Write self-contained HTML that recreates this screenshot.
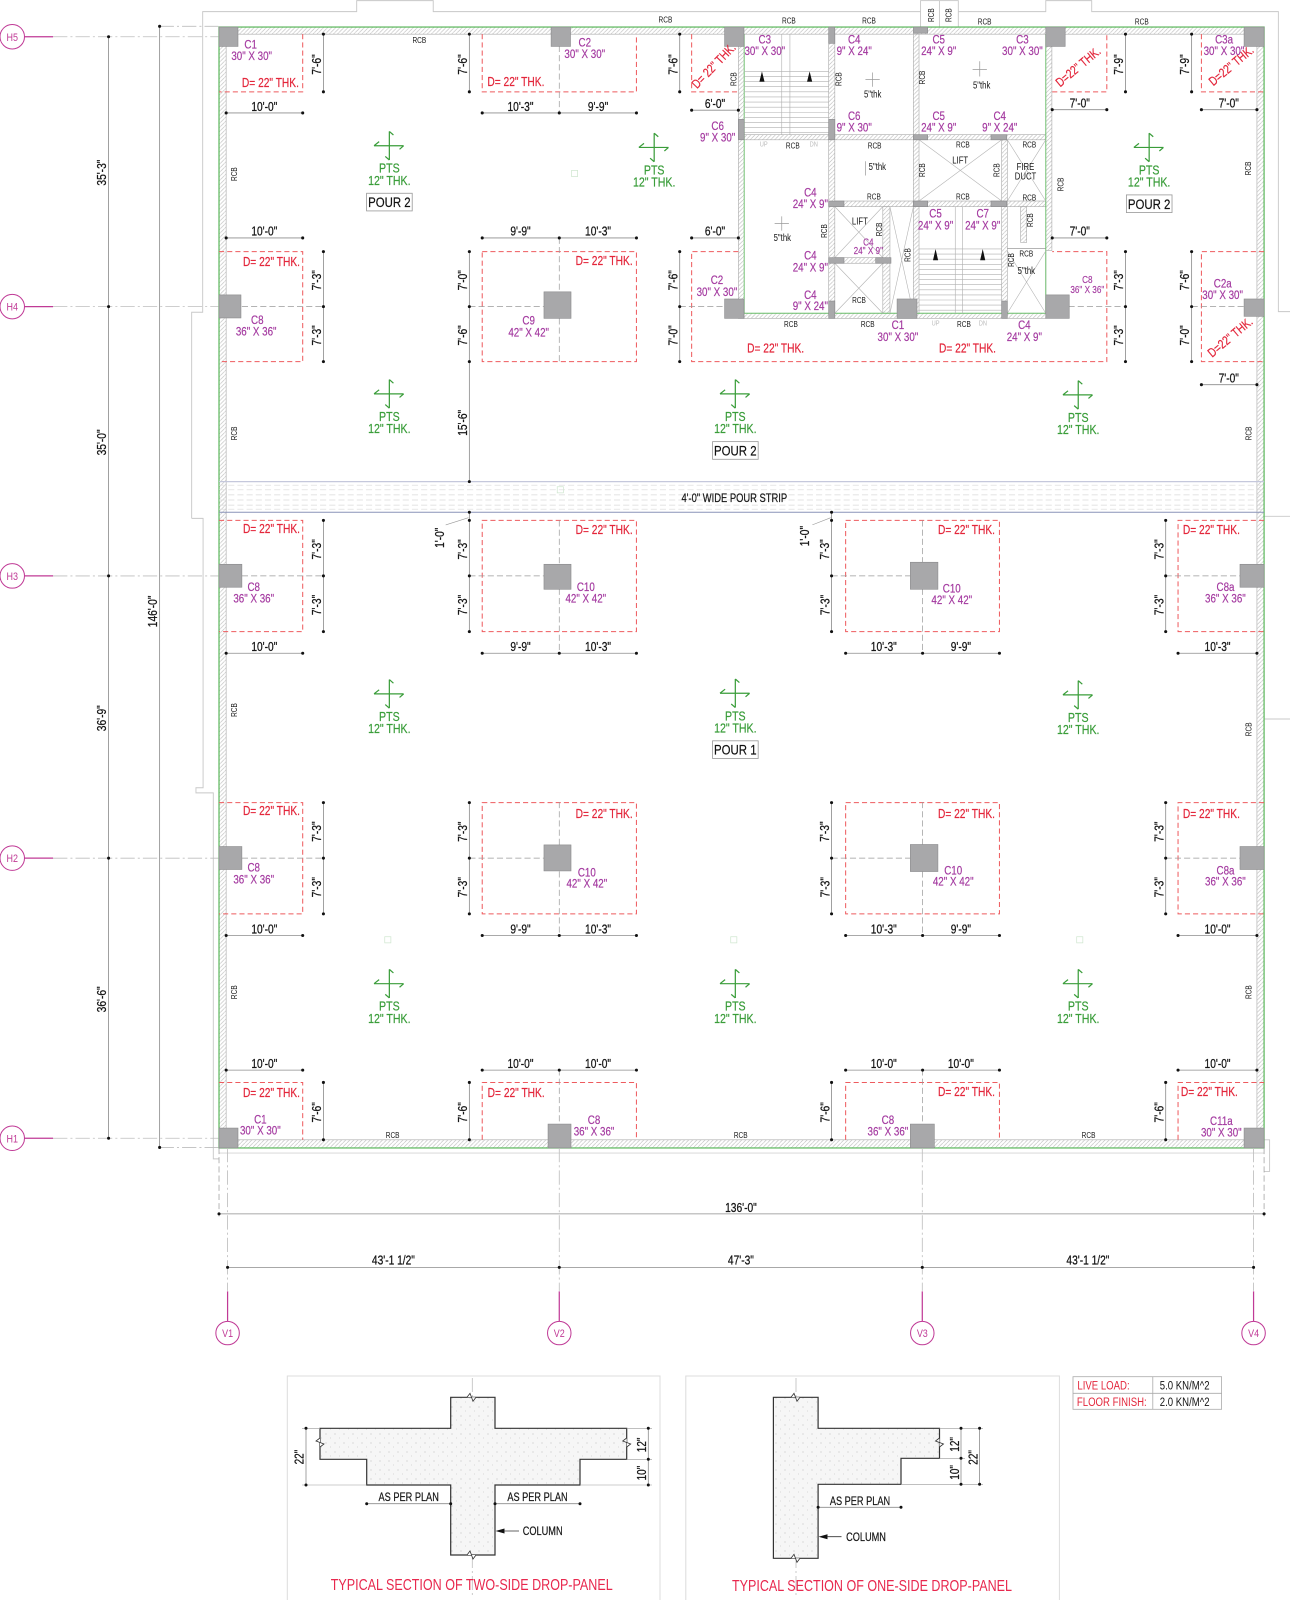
<!DOCTYPE html>
<html><head><meta charset="utf-8">
<style>
html,body{margin:0;padding:0;background:#fff}
svg{display:block}
text{font-family:"Liberation Sans",Arial,sans-serif;text-anchor:middle;transform-box:fill-box;transform-origin:center;transform:scaleX(.8)}
text.v{transform:rotate(-90deg) scaleX(.8)}
text.q{transform:rotate(-46deg) scaleX(.8)}
text.q4{transform:rotate(-40deg) scaleX(.8)}
text.ti{transform:none}
.d{font-size:12.5px;fill:#151515;stroke:#151515;stroke-width:.25}
.a{font-size:11.5px;fill:#151515;stroke:#151515;stroke-width:.2}
.m{font-size:12px;fill:#a43aa0;stroke:#a43aa0;stroke-width:.2}
.m2{font-size:10px;fill:#a43aa0;stroke:#a43aa0;stroke-width:.15}
.r{font-size:12.5px;fill:#e3263b;stroke:#e3263b;stroke-width:.2}
.g{font-size:13px;fill:#3a9d3a;stroke:#3a9d3a;stroke-width:.2}
.s{font-size:8px;fill:#151515}
.t{font-size:9.5px;fill:#151515}
.u{font-size:7px;fill:#bbb}
.b{font-size:11px;fill:#c03a96}
.k{font-size:14px;fill:#111;stroke:#111;stroke-width:.2}
.ti{font-size:15.5px;fill:#e8284e}
.tl{font-size:12px}
.w{fill:url(#h);stroke:#aaa;stroke-width:.6}
.c{fill:#a8a8aa;stroke:#8a8a8c;stroke-width:.6}
.p{fill:none;stroke:#ee5b5e;stroke-width:1;stroke-dasharray:5 3}
.dm{fill:none;stroke:#8c8c8c;stroke-width:.8;marker-start:url(#dt);marker-mid:url(#dt);marker-end:url(#dt)}
.gd{stroke:#9a9a9a;stroke-width:.7;stroke-dasharray:6 3;fill:none}
.gl{stroke:#bdbdbd;stroke-width:.8;stroke-dasharray:14 3 2 3;fill:none}
.ln{stroke:#c8c8c8;stroke-width:.9;fill:none}
.bub{fill:#fff;stroke:#c03a96;stroke-width:1}
.mg{stroke:#c03a96;stroke-width:1.2}
.x{stroke:#b5b5b5;stroke-width:.6;fill:none}
.tr{stroke:#b0b0b0;stroke-width:.6;fill:none}
.ex{stroke:#999;stroke-width:.6;fill:none}
</style></head>
<body>
<svg width="1290" height="1600" viewBox="0 0 1290 1600" xmlns="http://www.w3.org/2000/svg">
<defs>
<pattern id="h" width="4" height="4" patternUnits="userSpaceOnUse"><path d="M0,4L4,0" stroke="#bdbdbd" stroke-width=".6"/></pattern>
<pattern id="st" width="9" height="9" patternUnits="userSpaceOnUse"><rect width="9" height="9" fill="#f6f6f6"/><circle cx="2" cy="3" r=".6" fill="#c4c4c4"/><circle cx="6.5" cy="7" r=".5" fill="#cfcfcf"/></pattern>
<marker id="dt" viewBox="0 0 4 4" refX="2" refY="2" markerWidth="4" markerHeight="4" markerUnits="userSpaceOnUse"><circle cx="2" cy="2" r="1.5" fill="#111"/></marker>
<g id="pts" fill="none" stroke="#3a9d3a" stroke-width="1.2"><path d="M-15,0H14M0,-14V14M-15,0l5,-4M14,0l-4,3.5M0,-14l4,3.5M0,14l-4,-3.5"/></g>
</defs>

<g transform="scale(1.02057,1.02041)">
<!-- outer boundary -->
<polyline class="ln" points="187.8,508 187.8,306 198.6,306 198.6,11.4 349.5,11.4 349.5,0.6 424.5,0.6 424.5,11.4 902,11.4"/>
<polyline class="ln" points="939,11.4 1024.7,11.4 1024.7,0.6 1069.7,0.6 1069.7,11.4 1252.6,11.4 1252.6,305.4 1264,305.4"/>
<rect class="ln" x="902" y="0.6" width="37" height="26"/>
<line class="ln" x1="920.5" y1="0.6" x2="920.5" y2="26.6"/>
<polyline class="ln" points="187.8,508 199,508 199,772 192,772 192,777 209,777 209,1135.7 214.6,1135.7"/>
<path class="ln" d="M1238.6,506H1264M1238.6,704.6H1264M1238.6,1117H1244V1148H1238.6"/>
<line x1="214.6" y1="1130" x2="1238.6" y2="1130" stroke="#dedede"/>

<!-- walls -->
<rect class="w" x="214.6" y="26.5" width="1024" height="7"/>
<rect class="w" x="214.6" y="33.5" width="7" height="1083.5"/>
<rect class="w" x="1231.6" y="33.5" width="7" height="1083.5"/>
<rect class="w" x="214.6" y="1117" width="1024" height="8"/>
<rect x="214.6" y="26.5" width="1024" height="1098.5" fill="none" stroke="#5cb85c" stroke-width="1.2"/>

<!-- pour strip -->
<g stroke="#dadada" stroke-width=".7" stroke-dasharray="6 3"><path d="M214.6,475.5H1238.6M214.6,480H1238.6M214.6,485H1238.6M214.6,490H1238.6M214.6,495H1238.6M214.6,499H1238.6"/></g>
<line x1="214.6" y1="472" x2="1238.6" y2="472" stroke="#c5c8dc" stroke-width="1.3"/>
<line x1="214.6" y1="502" x2="1238.6" y2="502" stroke="#8a93b8" stroke-width="1"/>
<text class="a" x="719.5" y="492">4'-0" WIDE POUR STRIP</text>

<!-- core walls -->
<rect class="w" x="723.5" y="33.5" width="5.7" height="278.5"/>
<rect class="w" x="1024.7" y="33.5" width="6" height="212"/>
<rect class="w" x="729.2" y="307" width="295.5" height="5"/>
<rect class="w" x="812" y="33.5" width="6" height="273.5"/>
<rect class="w" x="895" y="33.5" width="5.5" height="273.5"/>
<rect class="w" x="981.5" y="137" width="5.5" height="170"/>
<rect class="w" x="729.2" y="132" width="295.5" height="5"/>
<rect class="w" x="818" y="197" width="206.7" height="5.5"/>
<rect class="w" x="818" y="252.5" width="47" height="5.5"/>
<rect class="w" x="865" y="202.5" width="7" height="104.5"/>
<rect class="w" x="1000" y="202.5" width="6" height="35"/>
<path d="M987,243.5H1024.7M1024.7,246V307" stroke="#aaa" stroke-width=".8"/>
<polyline points="729.2,33.5 729.2,307 1024.7,307 1024.7,33.5" stroke="#6cc06c" fill="none" stroke-width=".9"/>
<!-- stairs -->
<path class="tr" d="M729,70H812M729,75H812M729,80H812M729,85H812M729,90H812M729,95H812M729,100H812M729,105H812M729,110H812M729,115H812M729,120H812M729,125H812M729,130H812M766,33.5V132M774,33.5V132"/>
<path class="tr" d="M900.5,244H981.5M900.5,249H981.5M900.5,254H981.5M900.5,259H981.5M900.5,264H981.5M900.5,269H981.5M900.5,274H981.5M900.5,279H981.5M900.5,284H981.5M900.5,289H981.5M900.5,294H981.5M900.5,299H981.5M900.5,304H981.5M936,202.5V307M943,202.5V307"/>
<path d="M746.6,70l-2.5,10h5zM793.3,70l-2.5,10h5zM916.7,244l-2.5,11h5zM962.9,244l-2.5,11h5z" fill="#111"/>
<path class="x" d="M900.5,137L981.5,197M981.5,137L900.5,197M987,137L1024.7,197M1024.7,137L987,197M818,202.5L865,252.5M865,202.5L818,252.5M818,258L865,307M865,258L818,307M872,202.5L895,307M895,202.5L872,307M987,246L1024.7,307M1024.7,246L987,307"/>
<path d="M848,158V172M855,71V85M848,78H862M960,60V75M953,68H967M766,212V226M759,219H773" stroke="#999" stroke-width=".7"/>
<!-- core small columns -->
<g class="c">
<rect x="812" y="26.5" width="6" height="16"/><rect x="895" y="26.5" width="14" height="6"/>
<rect x="723.5" y="117" width="5.7" height="20"/><rect x="812" y="117" width="6" height="20"/>
<rect x="895" y="132" width="14" height="5"/><rect x="971" y="132" width="15.5" height="5"/>
<rect x="812" y="197" width="15" height="5.5"/><rect x="895" y="197" width="14" height="5.5"/><rect x="971" y="197" width="15.5" height="5.5"/>
<rect x="812" y="252.5" width="15" height="5.5"/><rect x="858" y="252.5" width="15" height="5.5"/>
<rect x="812" y="295" width="6" height="17"/><rect x="981.5" y="295" width="5.5" height="17"/>
</g>

<!-- drop panels -->
<g class="p">
<polyline points="296.6,33.5 296.6,90 214.6,90"/>
<polyline points="472.5,33.5 472.5,90 623.6,90 623.6,33.5"/>
<polyline points="677.7,33.5 677.7,90 723.5,90"/>
<polyline points="1031,90 1084.5,90 1084.5,33.5"/>
<polyline points="1177.2,33.5 1177.2,90 1238.6,90"/>
<polyline points="214.6,246.6 296.6,246.6 296.6,354.4 214.6,354.4"/>
<rect x="472.5" y="246.6" width="151.1" height="107.8"/>
<polyline points="723.5,246.6 677.7,246.6 677.7,354.4 1084.5,354.4 1084.5,246.6 1031,246.6"/>
<polyline points="1238.6,246.6 1177.2,246.6 1177.2,354.4 1238.6,354.4"/>
<polyline points="214.6,510 296.6,510 296.6,619 214.6,619"/>
<rect x="472.5" y="510" width="151.1" height="109"/>
<rect x="828.6" y="510" width="150.7" height="109"/>
<polyline points="1238.6,510 1154.3,510 1154.3,619 1238.6,619"/>
<polyline points="214.6,786.6 296.6,786.6 296.6,895.6 214.6,895.6"/>
<rect x="472.5" y="786.6" width="151.1" height="109"/>
<rect x="828.6" y="786.6" width="150.7" height="109"/>
<polyline points="1238.6,786.6 1154.3,786.6 1154.3,895.6 1238.6,895.6"/>
<polyline points="214.6,1060.8 296.6,1060.8 296.6,1117"/>
<polyline points="472.5,1117 472.5,1060.8 623.6,1060.8 623.6,1117"/>
<polyline points="828.6,1117 828.6,1060.8 979.3,1060.8 979.3,1117"/>
<polyline points="1154.3,1117 1154.3,1060.8 1238.6,1060.8"/>
</g>

<!-- internal grey dashed grid -->
<path class="gd" d="M237,300.5H316.9M459.9,300.5H533M666,300.5H710M1047,300.5H1102.8M1167.6,300.5H1219M237,564.4H316.9M459.9,564.4H533M814.8,564.4H892M1142.2,564.4H1215M237,841H316.9M459.9,841H533M814.8,841H892M1142.2,841H1215M548,45V110M548,233V286M548,312V354M548,510V553M548,577V640M548,786V828M548,854V917M548,1048V1101M904,510V551M904,577V640M904,786V828M904,854V917M904,1048V1101"/>

<!-- columns -->
<g class="c">
<rect x="214.6" y="26.5" width="18.6" height="19"/>
<rect x="540" y="26.5" width="19" height="19"/>
<rect x="710" y="26.5" width="19" height="19"/>
<rect x="1024.7" y="26.5" width="19" height="19"/>
<rect x="1219" y="26.5" width="19.6" height="19"/>
<rect x="214.6" y="289" width="21.5" height="22.6"/>
<rect x="533" y="286" width="26.5" height="26"/>
<rect x="710" y="293" width="19" height="19"/>
<rect x="879" y="293" width="19.5" height="19"/>
<rect x="1024.7" y="289" width="23" height="23"/>
<rect x="1219" y="293" width="19.6" height="17"/>
<rect x="214.6" y="553" width="22.4" height="22.5"/>
<rect x="533" y="553" width="26.5" height="24.5"/>
<rect x="892" y="551" width="27" height="26.5"/>
<rect x="1215" y="553" width="23.6" height="22.5"/>
<rect x="214.6" y="829.6" width="22.4" height="22.5"/>
<rect x="533" y="828" width="26.5" height="25.5"/>
<rect x="892" y="827.6" width="27" height="26.5"/>
<rect x="1215" y="829.6" width="23.6" height="22.5"/>
<rect x="214.6" y="1105.5" width="18.6" height="19.5"/>
<rect x="537" y="1101.6" width="22.5" height="23.4"/>
<rect x="892" y="1101.6" width="23.5" height="23.4"/>
<rect x="1219" y="1105.5" width="19.6" height="19.5"/>
</g>

<!-- grid bubbles left -->
<g>
<path class="gl" d="M52,36H214M52,300.5H214M52,564.4H214M52,841H214M52,1115.5H214M156.4,25.8H214M156.4,1124.5H214"/>
<path class="mg" d="M24,36H52M24,300.5H52M24,564.4H52M24,841H52M24,1115.5H52"/>
<circle class="bub" cx="12" cy="36" r="12"/><circle class="bub" cx="12" cy="300.5" r="12"/><circle class="bub" cx="12" cy="564.4" r="12"/><circle class="bub" cx="12" cy="841" r="12"/><circle class="bub" cx="12" cy="1115.5" r="12"/>
<text class="b" x="12" y="40">H5</text><text class="b" x="12" y="304.5">H4</text><text class="b" x="12" y="568.4">H3</text><text class="b" x="12" y="845">H2</text><text class="b" x="12" y="1119.5">H1</text>
<polyline class="dm" points="106.4,36 106.4,300.5 106.4,564.4 106.4,841 106.4,1115.5"/>
<polyline class="dm" points="156.4,25.8 156.4,1124.5"/>
<text class="d v" x="100.5" y="172.4">35'-3"</text>
<text class="d v" x="100.5" y="436.8">35'-0"</text>
<text class="d v" x="100.5" y="707.1">36'-9"</text>
<text class="d v" x="100.5" y="982.6">36'-6"</text>
<text class="d v" x="150.5" y="602.4">146'-0"</text>
</g>

<!-- bottom grid and dims -->
<path class="gd" d="M214.6,1125V1192M1238.6,1125V1192"/>
<path class="gl" d="M223,1125V1265M548,1125V1265M903.7,1125V1265M1228.3,1125V1265"/>
<path class="mg" d="M223,1265.6V1295M548,1265.6V1295M903.7,1265.6V1295M1228.3,1265.6V1295"/>
<circle class="bub" cx="223" cy="1306.4" r="11.5"/><circle class="bub" cx="548" cy="1306.4" r="11.5"/><circle class="bub" cx="903.7" cy="1306.4" r="11.5"/><circle class="bub" cx="1228.3" cy="1306.4" r="11.5"/>
<text class="b" x="223" y="1310.4">V1</text><text class="b" x="548" y="1310.4">V2</text><text class="b" x="903.7" y="1310.4">V3</text><text class="b" x="1228.3" y="1310.4">V4</text>
<polyline class="dm" points="214.6,1189.6 1238.6,1189.6"/>
<text class="d" x="726" y="1188">136'-0"</text>
<polyline class="dm" points="223,1242 548,1242 903.7,1242 1228.3,1242"/>
<text class="d" x="385.5" y="1239">43'-1 1/2"</text>
<text class="d" x="726" y="1239">47'-3"</text>
<text class="d" x="1066" y="1239">43'-1 1/2"</text>

<!-- dimension lines -->
<g>
<polyline class="dm" points="221.6,110.7 296.6,110.7"/><polyline class="dm" points="472.5,110.7 548,110.7 623.6,110.7"/><polyline class="dm" points="677.7,108 723.5,108"/><polyline class="dm" points="1031,107.5 1084.5,107.5"/><polyline class="dm" points="1177.2,107.5 1231.6,107.5"/>
<polyline class="dm" points="316.9,33.5 316.9,90"/><polyline class="dm" points="459.9,33.5 459.9,90"/><polyline class="dm" points="666,33.5 666,90"/><polyline class="dm" points="1102.8,33.5 1102.8,90"/><polyline class="dm" points="1167.6,33.5 1167.6,90"/>
<polyline class="dm" points="221.6,233.2 296.6,233.2"/><polyline class="dm" points="472.5,233.2 548,233.2 623.6,233.2"/><polyline class="dm" points="677.7,233.2 723.5,233.2"/><polyline class="dm" points="1031,233.2 1084.5,233.2"/><polyline class="dm" points="1177.2,377 1231.6,377"/>
<polyline class="dm" points="316.9,246.6 316.9,300.5 316.9,354.4"/><polyline class="dm" points="459.9,246.6 459.9,300.5 459.9,354.4 459.9,472"/><polyline class="dm" points="666,246.6 666,300.5 666,354.4"/><polyline class="dm" points="1102.8,246.6 1102.8,300.5 1102.8,354.4"/><polyline class="dm" points="1167.6,246.6 1167.6,300.5 1167.6,354.4"/>
<polyline class="dm" points="316.9,510 316.9,564.4 316.9,619"/><polyline class="dm" points="459.9,502 459.9,510 459.9,564.4 459.9,619"/><polyline class="dm" points="814.8,502 814.8,510 814.8,564.4 814.8,619"/><polyline class="dm" points="1142.2,510 1142.2,564.4 1142.2,619"/>
<polyline class="dm" points="221.6,640.2 296.6,640.2"/><polyline class="dm" points="472.5,640.2 548,640.2 623.6,640.2"/><polyline class="dm" points="828.6,640.2 904,640.2 979.3,640.2"/><polyline class="dm" points="1154.3,640.2 1231.6,640.2"/>
<polyline class="dm" points="316.9,786.6 316.9,841 316.9,895.6"/><polyline class="dm" points="459.9,786.6 459.9,841 459.9,895.6"/><polyline class="dm" points="814.8,786.6 814.8,841 814.8,895.6"/><polyline class="dm" points="1142.2,786.6 1142.2,841 1142.2,895.6"/>
<polyline class="dm" points="221.6,916.8 296.6,916.8"/><polyline class="dm" points="472.5,916.8 548,916.8 623.6,916.8"/><polyline class="dm" points="828.6,916.8 904,916.8 979.3,916.8"/><polyline class="dm" points="1154.3,916.8 1231.6,916.8"/>
<polyline class="dm" points="221.6,1048.7 296.6,1048.7"/><polyline class="dm" points="472.5,1048.7 548,1048.7 623.6,1048.7"/><polyline class="dm" points="828.6,1048.7 904,1048.7 979.3,1048.7"/><polyline class="dm" points="1154.3,1048.7 1231.6,1048.7"/>
<polyline class="dm" points="316.9,1060.8 316.9,1117"/><polyline class="dm" points="459.9,1060.8 459.9,1117"/><polyline class="dm" points="814.8,1060.8 814.8,1117"/><polyline class="dm" points="1142.2,1060.8 1142.2,1117"/>
<path class="ex" d="M436.7,514.4L459,507.3M796,514.4L814,507.3"/>
</g>
<!-- dim texts horizontal -->
<g>
<text class="d" x="259" y="108.7">10'-0"</text><text class="d" x="510" y="108.7">10'-3"</text><text class="d" x="586" y="108.7">9'-9"</text><text class="d" x="700.6" y="106">6'-0"</text><text class="d" x="1058" y="105.5">7'-0"</text><text class="d" x="1204" y="105.5">7'-0"</text>
<text class="d" x="259" y="231">10'-0"</text><text class="d" x="510" y="231">9'-9"</text><text class="d" x="586" y="231">10'-3"</text><text class="d" x="700.6" y="231">6'-0"</text><text class="d" x="1058" y="231">7'-0"</text><text class="d" x="1204" y="375">7'-0"</text>
<text class="d" x="259" y="638">10'-0"</text><text class="d" x="510" y="638">9'-9"</text><text class="d" x="586" y="638">10'-3"</text><text class="d" x="866" y="638">10'-3"</text><text class="d" x="941.5" y="638">9'-9"</text><text class="d" x="1193" y="638">10'-3"</text>
<text class="d" x="259" y="914.6">10'-0"</text><text class="d" x="510" y="914.6">9'-9"</text><text class="d" x="586" y="914.6">10'-3"</text><text class="d" x="866" y="914.6">10'-3"</text><text class="d" x="941.5" y="914.6">9'-9"</text><text class="d" x="1193" y="914.6">10'-0"</text>
<text class="d" x="259" y="1046.5">10'-0"</text><text class="d" x="510" y="1046.5">10'-0"</text><text class="d" x="586" y="1046.5">10'-0"</text><text class="d" x="866" y="1046.5">10'-0"</text><text class="d" x="941.5" y="1046.5">10'-0"</text><text class="d" x="1193" y="1046.5">10'-0"</text>
</g>
<!-- dim texts vertical -->
<g>
<text class="d v" x="311.4" y="66.4">7'-6"</text><text class="d v" x="454.4" y="66.4">7'-6"</text><text class="d v" x="660.5" y="66.4">7'-6"</text><text class="d v" x="1097.3" y="66.4">7'-9"</text><text class="d v" x="1162" y="66.4">7'-9"</text>
<text class="d v" x="311.4" y="277.9">7'-3"</text><text class="d v" x="311.4" y="331.9">7'-3"</text>
<text class="d v" x="454.4" y="277.9">7'-0"</text><text class="d v" x="454.4" y="331.9">7'-6"</text><text class="d v" x="454.4" y="417.6">15'-6"</text>
<text class="d v" x="660.5" y="277.9">7'-6"</text><text class="d v" x="660.5" y="331.9">7'-0"</text>
<text class="d v" x="1097.3" y="277.9">7'-3"</text><text class="d v" x="1097.3" y="331.9">7'-3"</text>
<text class="d v" x="1162" y="277.9">7'-6"</text><text class="d v" x="1162" y="331.9">7'-0"</text>
<text class="d v" x="311.4" y="541.6">7'-3"</text><text class="d v" x="311.4" y="596.1">7'-3"</text>
<text class="d v" x="454.4" y="541.6">7'-3"</text><text class="d v" x="454.4" y="596.1">7'-3"</text><text class="d v" x="431.8" y="530.2">1'-0"</text>
<text class="d v" x="809.3" y="541.6">7'-3"</text><text class="d v" x="809.3" y="596.1">7'-3"</text><text class="d v" x="789.5" y="528.6">1'-0"</text>
<text class="d v" x="1136.7" y="541.6">7'-3"</text><text class="d v" x="1136.7" y="596.1">7'-3"</text>
<text class="d v" x="311.4" y="818.2">7'-3"</text><text class="d v" x="311.4" y="872.7">7'-3"</text>
<text class="d v" x="454.4" y="818.2">7'-3"</text><text class="d v" x="454.4" y="872.7">7'-3"</text>
<text class="d v" x="809.3" y="818.2">7'-3"</text><text class="d v" x="809.3" y="872.7">7'-3"</text>
<text class="d v" x="1136.7" y="818.2">7'-3"</text><text class="d v" x="1136.7" y="872.7">7'-3"</text>
<text class="d v" x="311.4" y="1093.3">7'-6"</text><text class="d v" x="454.4" y="1093.3">7'-6"</text><text class="d v" x="809.3" y="1093.3">7'-6"</text><text class="d v" x="1136.7" y="1093.3">7'-6"</text>
</g>

<!-- red drop texts -->
<g>
<text class="r" x="265" y="85.5">D= 22" THK.</text><text class="r" x="505.5" y="84.5">D= 22" THK.</text>
<text class="r q" x="700" y="68.4">D= 22" THK.</text><text class="r q4" x="1057" y="69.4">D=22" THK.</text><text class="r q4" x="1207" y="68.4">D=22" THK.</text>
<text class="r" x="266" y="260.5">D= 22" THK.</text><text class="r" x="592" y="259.5">D= 22" THK.</text><text class="r" x="760" y="345.5">D= 22" THK.</text><text class="r" x="948" y="345.5">D= 22" THK.</text><text class="r q4" x="1206" y="334.4">D=22" THK.</text>
<text class="r" x="266" y="522.5">D= 22" THK.</text><text class="r" x="592" y="523.5">D= 22" THK.</text><text class="r" x="947" y="523.5">D= 22" THK.</text><text class="r" x="1187" y="523.5">D= 22" THK.</text>
<text class="r" x="266" y="798.5">D= 22" THK.</text><text class="r" x="592" y="801.5">D= 22" THK.</text><text class="r" x="947" y="801.5">D= 22" THK.</text><text class="r" x="1187" y="801.5">D= 22" THK.</text>
<text class="r" x="266" y="1075">D= 22" THK.</text><text class="r" x="505.8" y="1075">D= 22" THK.</text><text class="r" x="947" y="1074">D= 22" THK.</text><text class="r" x="1185" y="1074">D= 22" THK.</text>
</g>

<!-- magenta column labels -->
<g>
<text class="m" x="245.6" y="47.3">C1</text><text class="m" x="246.6" y="59">30" X 30"</text>
<text class="m" x="573" y="45.5">C2</text><text class="m" x="573" y="57">30" X 30"</text>
<text class="m" x="749.4" y="42.5">C3</text><text class="m" x="749.4" y="54">30" X 30"</text>
<text class="m" x="837" y="42.5">C4</text><text class="m" x="837" y="54">9" X 24"</text>
<text class="m" x="919.8" y="42.5">C5</text><text class="m" x="919.8" y="54">24" X 9"</text>
<text class="m" x="1001.8" y="42.5">C3</text><text class="m" x="1001.8" y="54">30" X 30"</text>
<text class="m" x="1199.3" y="42.5">C3a</text><text class="m" x="1199.3" y="54">30" X 30"</text>
<text class="m" x="837" y="117.5">C6</text><text class="m" x="837" y="129">9" X 30"</text>
<text class="m" x="919.8" y="117.5">C5</text><text class="m" x="919.8" y="129">24" X 9"</text>
<text class="m" x="979.6" y="117.5">C4</text><text class="m" x="979.6" y="129">9" X 24"</text>
<text class="m" x="703.2" y="127.3">C6</text><text class="m" x="703.2" y="138.7">9" X 30"</text>
<text class="m" x="794" y="192.6">C4</text><text class="m" x="794" y="204">24" X 9"</text>
<text class="m" x="916.7" y="213">C5</text><text class="m" x="916.7" y="225">24" X 9"</text>
<text class="m" x="962.9" y="213">C7</text><text class="m" x="962.9" y="225">24" X 9"</text>
<text class="m2" x="850.8" y="240.5">C4</text><text class="m2" x="850.8" y="249">24" X 9"</text>
<text class="m" x="794" y="254.5">C4</text><text class="m" x="794" y="266">24" X 9"</text>
<text class="m" x="794" y="293">C4</text><text class="m" x="794" y="304">9" X 24"</text>
<text class="m" x="702.5" y="278.5">C2</text><text class="m" x="702.5" y="290">30" X 30"</text>
<text class="m" x="879.8" y="322.5">C1</text><text class="m" x="879.8" y="334">30" X 30"</text>
<text class="m" x="1003.7" y="322.5">C4</text><text class="m" x="1003.7" y="334">24" X 9"</text>
<text class="m2" x="1065.4" y="277.5">C8</text><text class="m2" x="1065.4" y="287">36" X 36"</text>
<text class="m" x="1198" y="281.8">C2a</text><text class="m" x="1198" y="293">30" X 30"</text>
<text class="m" x="252.1" y="317.7">C8</text><text class="m" x="251" y="329">36" X 36"</text>
<text class="m" x="518" y="318">C9</text><text class="m" x="518" y="330">42" X 42"</text>
<text class="m" x="248.6" y="579">C8</text><text class="m" x="248.6" y="590.5">36" X 36"</text>
<text class="m" x="574" y="579">C10</text><text class="m" x="574" y="590.5">42" X 42"</text>
<text class="m" x="932.6" y="580.7">C10</text><text class="m" x="932.6" y="592">42" X 42"</text>
<text class="m" x="1200.7" y="579">C8a</text><text class="m" x="1200.7" y="590.5">36" X 36"</text>
<text class="m" x="248.6" y="854">C8</text><text class="m" x="248.6" y="866">36" X 36"</text>
<text class="m" x="575" y="859">C10</text><text class="m" x="575" y="870">42" X 42"</text>
<text class="m" x="934" y="857">C10</text><text class="m" x="934" y="868">42" X 42"</text>
<text class="m" x="1200.7" y="857">C8a</text><text class="m" x="1200.7" y="868">36" X 36"</text>
<text class="m" x="255.1" y="1101">C1</text><text class="m" x="255.1" y="1112">30" X 30"</text>
<text class="m" x="582.1" y="1101.5">C8</text><text class="m" x="582.1" y="1113">36" X 36"</text>
<text class="m" x="870" y="1101.5">C8</text><text class="m" x="870" y="1113">36" X 36"</text>
<text class="m" x="1196.7" y="1102.5">C11a</text><text class="m" x="1196.7" y="1114">30" X 30"</text>
</g>

<!-- RCB labels -->
<g>
<text class="s" x="410.9" y="41.9">RCB</text><text class="s" x="652" y="22">RCB</text><text class="s" x="773" y="23.2">RCB</text><text class="s" x="851.5" y="23.2">RCB</text><text class="s" x="964.8" y="24.2">RCB</text><text class="s" x="1118.8" y="24">RCB</text>
<text class="s" x="776.8" y="145.7">RCB</text><text class="s" x="857" y="145.7">RCB</text><text class="s" x="943.5" y="144.4">RCB</text><text class="s" x="1008.6" y="144.4">RCB</text>
<text class="s" x="856.3" y="195.7">RCB</text><text class="s" x="943.5" y="195.7">RCB</text><text class="s" x="1008.6" y="196.3">RCB</text>
<text class="s" x="1005.6" y="251.2">RCB</text><text class="s" x="841.7" y="297">RCB</text>
<text class="s" x="775" y="320.4">RCB</text><text class="s" x="850.2" y="320.4">RCB</text><text class="s" x="944.5" y="320.4">RCB</text>
<text class="s" x="384.7" y="1115">RCB</text><text class="s" x="725.8" y="1115">RCB</text><text class="s" x="1066.6" y="1115">RCB</text>
<text class="s v" x="912.2" y="17.5">RCB</text><text class="s v" x="929.4" y="17.5">RCB</text>
<text class="s v" x="718.9" y="80.2">RCB</text><text class="s v" x="821.9" y="80.2">RCB</text><text class="s v" x="903.4" y="78.6">RCB</text>
<text class="s v" x="903.4" y="169.4">RCB</text><text class="s v" x="976.6" y="169.4">RCB</text><text class="s v" x="1039.1" y="183.4">RCB</text>
<text class="s v" x="807.4" y="229.1">RCB</text><text class="s v" x="861.5" y="227.5">RCB</text><text class="s v" x="889.3" y="252.6">RCB</text><text class="s v" x="1009.4" y="218.4">RCB</text><text class="s v" x="990.7" y="257.5">RCB</text>
<text class="s v" x="1222.8" y="167.7">RCB</text><text class="s v" x="1223.4" y="427.4">RCB</text><text class="s v" x="1223.4" y="717.4">RCB</text><text class="s v" x="1223.4" y="975">RCB</text>
<text class="s v" x="229.3" y="173.3">RCB</text><text class="s v" x="229.3" y="427.4">RCB</text><text class="s v" x="229.3" y="698.5">RCB</text><text class="s v" x="229.3" y="975">RCB</text>
</g>
<!-- core misc texts -->
<g>
<text class="t" x="940.8" y="160">LIFT</text><text class="t" x="842.5" y="220">LIFT</text>
<text class="t" x="1004.8" y="166.5">FIRE</text><text class="t" x="1004.8" y="176">DUCT</text>
<text class="t" x="855" y="95.5">5"thk</text><text class="t" x="961.8" y="86.8">5"thk</text><text class="t" x="859.6" y="166.8">5"thk</text><text class="t" x="766.5" y="236">5"thk</text><text class="t" x="1005.6" y="268.7">5"thk</text>
<text class="u" x="748.3" y="143.5">UP</text><text class="u" x="797.3" y="143.5">DN</text><text class="u" x="916.7" y="319">UP</text><text class="u" x="963" y="319">DN</text>
</g>

<!-- PTS -->
<g>
<use href="#pts" x="381.5" y="142.8"/><text class="g" x="381.5" y="169.3">PTS</text><text class="g" x="381.5" y="181.3">12" THK.</text>
<rect x="359.2" y="189.4" width="44.7" height="17.3" fill="#fff" stroke="#999" stroke-width=".8"/><text class="k" x="381.5" y="203">POUR 2</text>
<use href="#pts" x="641" y="144.5"/><text class="g" x="641" y="171">PTS</text><text class="g" x="641" y="183">12" THK.</text>
<use href="#pts" x="1126" y="144.5"/><text class="g" x="1126" y="171">PTS</text><text class="g" x="1126" y="183">12" THK.</text>
<rect x="1103.7" y="191" width="44.7" height="17.3" fill="#fff" stroke="#999" stroke-width=".8"/><text class="k" x="1126" y="204.6">POUR 2</text>
<use href="#pts" x="381.5" y="386"/><text class="g" x="381.5" y="412.5">PTS</text><text class="g" x="381.5" y="424.5">12" THK.</text>
<use href="#pts" x="720.5" y="386"/><text class="g" x="720.5" y="412.5">PTS</text><text class="g" x="720.5" y="424.5">12" THK.</text>
<rect x="698.2" y="432.8" width="44.7" height="17.3" fill="#fff" stroke="#999" stroke-width=".8"/><text class="k" x="720.5" y="446.4">POUR 2</text>
<use href="#pts" x="1056.5" y="387"/><text class="g" x="1056.5" y="413.5">PTS</text><text class="g" x="1056.5" y="425.5">12" THK.</text>
<use href="#pts" x="381.5" y="680"/><text class="g" x="381.5" y="706.5">PTS</text><text class="g" x="381.5" y="718.5">12" THK.</text>
<use href="#pts" x="720.5" y="679.4"/><text class="g" x="720.5" y="706">PTS</text><text class="g" x="720.5" y="718">12" THK.</text>
<rect x="698.2" y="726" width="44.7" height="17.3" fill="#fff" stroke="#999" stroke-width=".8"/><text class="k" x="720.5" y="739.6">POUR 1</text>
<use href="#pts" x="1056.5" y="681"/><text class="g" x="1056.5" y="707.5">PTS</text><text class="g" x="1056.5" y="719.5">12" THK.</text>
<use href="#pts" x="381.5" y="964"/><text class="g" x="381.5" y="990.5">PTS</text><text class="g" x="381.5" y="1002.5">12" THK.</text>
<use href="#pts" x="720.5" y="964"/><text class="g" x="720.5" y="990.5">PTS</text><text class="g" x="720.5" y="1002.5">12" THK.</text>
<use href="#pts" x="1056.5" y="964"/><text class="g" x="1056.5" y="990.5">PTS</text><text class="g" x="1056.5" y="1002.5">12" THK.</text>
</g>
<g fill="none" stroke="#cfe6cf" stroke-width=".7"><rect x="560" y="167" width="6" height="6"/><rect x="546" y="477" width="6" height="6"/><rect x="377" y="918" width="6" height="6"/><rect x="716" y="918" width="6" height="6"/><rect x="1055" y="918" width="6" height="6"/></g>
</g>

<!-- SECTIONS (actual coords) -->
<rect x="287.3" y="1376" width="372.7" height="240" fill="none" stroke="#dcdcdc"/>
<rect x="685.8" y="1376" width="373.6" height="240" fill="none" stroke="#dcdcdc"/>
<line class="gl" x1="472.3" y1="1378" x2="472.3" y2="1598"/>
<line class="gl" x1="796" y1="1378" x2="796" y2="1598"/>
<polygon points="450.7,1397.3 450.7,1428.3 320,1428.3 320,1459.3 366.7,1459.3 366.7,1485 450.7,1485 450.7,1555 495,1555 495,1485 580,1485 580,1459.3 626.7,1459.3 626.7,1428.3 495,1428.3 495,1397.3" fill="url(#st)" stroke="#333" stroke-width="1.2"/>
<polygon points="773.4,1397.3 818.1,1397.3 818.1,1428.3 939.5,1428.3 939.5,1458.3 901,1458.3 901,1484.3 818.1,1484.3 818.1,1558.3 773.4,1558.3" fill="url(#st)" stroke="#333" stroke-width="1.2"/>
<path d="M467,1397.3l3,-4l3,8l3,-4M467,1555l3,-4l3,8l3,-4M320,1438l-4,3l8,3l-4,3M626.7,1438l-4,3l8,3l-4,3M791,1397.3l3,-4l3,8l3,-4M791,1558.3l3,-4l3,8l3,-4M939.5,1438l-4,3l8,3l-4,3" fill="#fff" stroke="#333" stroke-width=".8"/>
<path class="ex" d="M302,1428.3H320M302,1485H366.7M626.7,1428.3H652M626.7,1459.3H652M580,1485H652M939.5,1428.3H983M939.5,1458.3H965M901,1484.3H983"/>
<polyline class="dm" points="306,1428.3 306,1485"/>
<polyline class="dm" points="648.3,1428.3 648.3,1459.3 648.3,1485"/>
<polyline class="dm" points="366.7,1503.7 450.7,1503.7"/>
<polyline class="dm" points="495,1503.7 580,1503.7"/>
<polyline class="dm" points="961,1428.3 961,1458.3 961,1484.3"/>
<polyline class="dm" points="979.6,1428.3 979.6,1484.3"/>
<polyline class="dm" points="818.1,1507.3 901,1507.3"/>
<text class="d v" x="300" y="1460.4">22"</text>
<text class="d v" x="642.5" y="1448.2">12"</text>
<text class="d v" x="642.5" y="1476.4">10"</text>
<text class="d v" x="955.5" y="1447.7">12"</text>
<text class="d v" x="955.5" y="1475.7">10"</text>
<text class="d v" x="974" y="1460.7">22"</text>
<text class="a" x="408.7" y="1501">AS PER PLAN</text>
<text class="a" x="537.5" y="1501">AS PER PLAN</text>
<text class="a" x="860" y="1505">AS PER PLAN</text>
<path d="M495.5,1531l9,-2.5v5zM818.5,1536.7l9,-2.5v5z" fill="#111"/>
<path d="M504,1531H519M827,1536.7H841.5" stroke="#333" stroke-width=".8"/>
<text class="a" x="542.7" y="1535">COLUMN</text>
<text class="a" x="866" y="1541">COLUMN</text>
<text class="ti" x="471.7" y="1590" textLength="282" lengthAdjust="spacingAndGlyphs">TYPICAL SECTION OF TWO-SIDE DROP-PANEL</text>
<text class="ti" x="872" y="1591" textLength="280" lengthAdjust="spacingAndGlyphs">TYPICAL SECTION OF ONE-SIDE DROP-PANEL</text>

<!-- load table -->
<rect x="1073" y="1376.7" width="148.6" height="32.6" fill="none" stroke="#aaa" stroke-width=".8"/>
<path d="M1073,1393.3H1221.6M1152.8,1376.7V1409.3" stroke="#aaa" stroke-width=".8"/>
<text class="tl" x="1103.5" y="1389.5" fill="#e3263b">LIVE LOAD:</text>
<text class="tl" x="1184.7" y="1389.5" fill="#151515">5.0 KN/M^2</text>
<text class="tl" x="1111.8" y="1406" fill="#e3263b">FLOOR FINISH:</text>
<text class="tl" x="1184.7" y="1406" fill="#151515">2.0 KN/M^2</text>
</svg>
</body></html>
